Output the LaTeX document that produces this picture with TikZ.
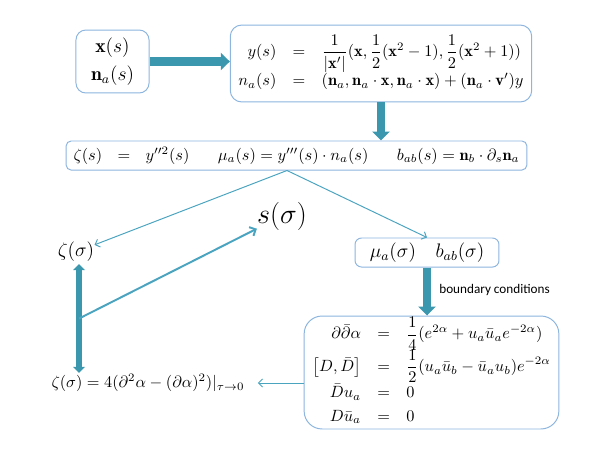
\documentclass[tikz,border=0pt]{standalone}
\usepackage{amsmath}
\usepackage{amssymb}
\usepackage{array}
\usepackage{fontspec}
\newfontfamily\labelfont{Carlito}
\usetikzlibrary{arrows.meta}
\definecolor{arrowteal}{HTML}{3B97AE}
\definecolor{lineteal}{HTML}{4AA3BF}
\definecolor{boxblue}{HTML}{8CB5DF}
\newcolumntype{R}{>{\displaystyle}r}
\newcolumntype{C}{>{\displaystyle}c}
\newcolumntype{L}{>{\displaystyle}l}

\begin{document}
\begin{tikzpicture}[x=0.02156cm, y=0.02156cm]
\tikzstyle{every node}+=[inner sep=0pt]
\tikzstyle{panel}=[draw=boxblue, line width=0.6pt, fill=white]
\tikzstyle{fat}=[draw=arrowteal, line width=5pt, -{Triangle[width=10.5pt,length=5.5pt]}]
\tikzstyle{twin}=[draw=arrowteal, line width=3.7pt, {Triangle[width=7pt,length=3.7pt]}-{Triangle[width=7pt,length=3.7pt]}]
\tikzstyle{feed}=[draw=lineteal, line width=0.6pt, -{Straight Barb[length=2.5pt,width=5pt]}]
\tikzstyle{branch}=[draw=lineteal, line width=1.2pt, -{Straight Barb[length=3pt,width=6pt]}]
\tikzstyle{tag}=[anchor=west, font=\labelfont\fontsize{8.1}{10}\selectfont]
\useasboundingbox (0,0) rectangle (598,-449);

\node [panel, rounded corners=6pt, minimum width=44.8pt, minimum height=38.6pt, align=center, font=\large] (curve) at (112.5,-61.5) {$\mathbf{x}(s)$\\[3pt]$\mathbf{n}_a(s)$};
\node [panel, rounded corners=7pt, minimum width=163pt, minimum height=47.2pt] (lift) at (381,-63.5) {$\begin{array}{RCL}
y(s) & = & \frac{1}{|\mathbf{x}'|}(\mathbf{x},\frac12(\mathbf{x}^2-1),\frac12(\mathbf{x}^2+1))\\[3pt]
n_a(s) & = & (\mathbf{n}_a,\mathbf{n}_a\cdot\mathbf{x},\mathbf{n}_a\cdot\mathbf{x})+(\mathbf{n}_a\cdot\mathbf{v}')y
\end{array}$};
\node [panel, rounded corners=3pt, minimum width=282.6pt, minimum height=17.8pt, text width=273.6pt] (invar) at (296.5,-155.5) {$\zeta(s)\ \ =\ \ y''^2(s)$\hfill$\mu_a(s)=y'''(s)\cdot n_a(s)$\hfill$b_{ab}(s)=\mathbf{n}_b\cdot\partial_s\mathbf{n}_a$};
\node [panel, rounded corners=4pt, minimum width=88.3pt, minimum height=17.8pt, font=\large] (bdry) at (427,-252.5) {$\mu_a(\sigma)\quad b_{ab}(\sigma)$};
\node [panel, rounded corners=11pt, minimum width=140.4pt, minimum height=69.3pt] (liou) at (431.5,-372.5) {\renewcommand{\arraystretch}{1.08}$\begin{array}{RCL}
\partial\bar\partial\alpha & = & \frac14(e^{2\alpha}+u_a\bar u_a e^{-2\alpha})\\[2pt]
\left[D,\bar D\right] & = & \frac12(u_a\bar u_b-\bar u_a u_b)e^{-2\alpha}\\[3pt]
\bar D u_a & = & 0\\[1.5pt]
D\bar u_a & = & 0
\end{array}$};
\node [font=\large] (zs) at (76,-252) {$\zeta(\sigma)$};
\node [font=\LARGE] (ss) at (282,-216) {$s(\sigma)$};
\node (zf) at (148,-383) {$\zeta(\sigma)=4(\partial^2\alpha-(\partial\alpha)^2)|_{\tau\to0}$};
\node [tag] (bc) at (439,-289.5) {boundary conditions};

\draw [fat] (curve.east) -- (curve.east -| lift.west);
\draw [fat] (lift.south) -- (lift.south |- invar.north);
\path (invar.south) ++(-9.5,0) coordinate (split);
\draw [feed] (split) -- (zs);
\draw [feed] (split) -- (bdry.north);
\draw [fat] (bdry.south) -- (bdry.south |- liou.north);
\path (zs.south) ++(3,-2) coordinate (ztop);
\path (ztop |- zf.north) ++(0,1) coordinate (zbot);
\path (ztop) -- (zbot) coordinate [pos=0.5] (fork);
\draw [twin] (ztop) -- (zbot);
\draw [branch] (fork) -- (ss);
\draw [feed, shorten >=8pt] (liou.west |- zf) -- (zf.east);
\end{tikzpicture}
\end{document}
